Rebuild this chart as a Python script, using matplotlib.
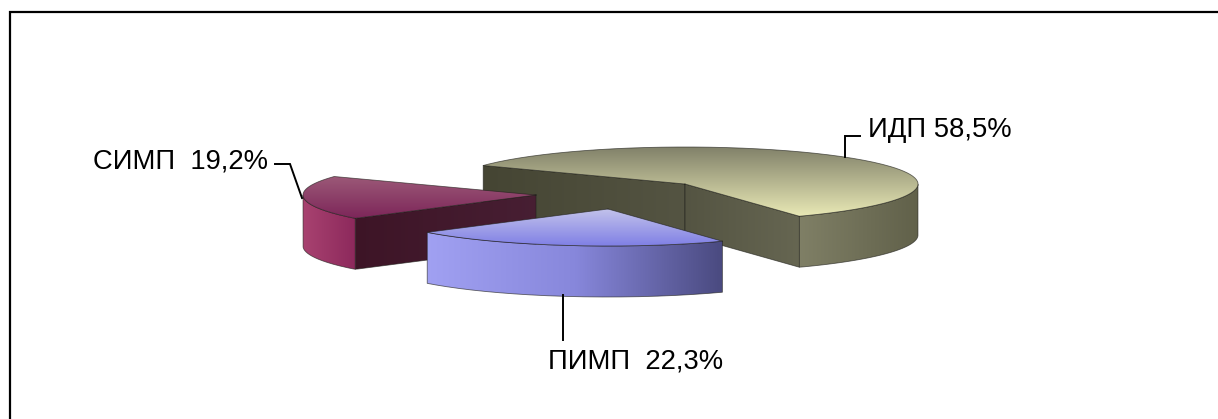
import numpy as np
import matplotlib
matplotlib.use("Agg")
import matplotlib.pyplot as plt
from matplotlib.colors import LinearSegmentedColormap
from matplotlib.patches import PathPatch
from matplotlib.path import Path

plt.rcParams['font.family'] = ['Liberation Sans', 'DejaVu Sans']

categories = ['ИДП', 'ПИМП', 'СИМП']
shares = [58.5, 22.3, 19.2]
value_labels = ['58,5%', '22,3%', '19,2%']
label_gaps = [' ', '  ', '  ']

# Exploded slice centres, in pixel-like canvas units
centres = [(685, 184), (608, 209), (536, 195)]
RX, RY, DEPTH = 233, 37, 51
START_ANGLE = 150.0

top_colors = [
    [(0.50, 0.50, 0.41), (0.91, 0.91, 0.71)],
    [(0.76, 0.76, 0.92), (0.50, 0.50, 0.90)],
    [(0.61, 0.35, 0.47), (0.49, 0.15, 0.35)],
]
rim_colors = [
    [(0.50, 0.50, 0.40), (0.38, 0.38, 0.29)],
    [(0.63, 0.63, 0.95), (0.53, 0.53, 0.86), (0.29, 0.29, 0.50)],
    [(0.66, 0.26, 0.44), (0.55, 0.16, 0.36)],
]
# One gradient for the cut face at the start angle and one for the end angle
cut_colors = [
    ([(0.27, 0.27, 0.20), (0.33, 0.33, 0.26)], [(0.33, 0.33, 0.26), (0.40, 0.40, 0.32)]),
    (None, None),
    ([(0.24, 0.08, 0.15), (0.28, 0.12, 0.20)], None),
]

fig = plt.figure(figsize=(12.18, 4.19), dpi=100)
ax = fig.add_axes([0, 0, 1, 1])
ax.set_xlim(0, 1218)
ax.set_ylim(419, 0)
ax.axis('off')

layer = [1.0]


def rim_point(c, deg):
    t = np.radians(deg)
    return c[0] + RX * np.cos(t), c[1] - RY * np.sin(t)


def fill_gradient(poly, colors, vertical):
    """Fill a polygon with a linear gradient and a thin dark edge."""
    poly = np.asarray(poly, float)
    z = layer[0]
    layer[0] += 1
    patch = PathPatch(Path(np.vstack([poly, poly[:1]])), fc='none', ec='none',
                      transform=ax.transData, zorder=z)
    ax.add_patch(patch)
    cmap = LinearSegmentedColormap.from_list('g', colors)
    ramp = np.linspace(0, 1, 256)
    ramp = ramp[:, None] if vertical else ramp[None, :]
    x0, x1 = poly[:, 0].min(), poly[:, 0].max()
    y0, y1 = poly[:, 1].min(), poly[:, 1].max()
    im = ax.imshow(ramp, cmap=cmap, extent=(x0, x1, y1, y0), aspect='auto',
                   interpolation='bilinear', zorder=z + 0.1)
    im.set_clip_path(patch)
    ax.plot(np.append(poly[:, 0], poly[0, 0]), np.append(poly[:, 1], poly[0, 1]),
            color=(0.12, 0.12, 0.10), lw=0.6, alpha=0.65, zorder=z + 0.2)


def draw_slice(c, a0, a1, idx):
    """Draw one exploded slice running clockwise from a0 to a1 degrees."""
    arc = np.linspace(a0, a1, 160)
    pts = np.array([rim_point(c, a) for a in arc])
    apex = np.array(c, float)
    down = np.array([0, DEPTH])

    # Cut faces that look towards the viewer
    for edge_angle, colors in zip((a0, a1), cut_colors[idx]):
        if colors is not None:
            p = np.array(rim_point(c, edge_angle))
            fill_gradient([apex, p, p + down, apex + down], colors, False)

    # Outer rim: only the near half of the ellipse is visible
    front = pts[np.sin(np.radians(arc)) <= 0.0]
    fill_gradient(np.vstack([front, (front + down)[::-1]]), rim_colors[idx], False)

    # Top face
    fill_gradient(np.vstack([[apex], pts]), top_colors[idx], True)


# Wedge angles follow the shares, clockwise from the start angle
angles = START_ANGLE - np.concatenate([[0], np.cumsum(shares)]) * 3.6

for i in [0, 2, 1]:
    draw_slice(centres[i], angles[i], angles[i + 1], i)

# Leader lines
leaders = [
    [(860, 136), (845, 136), (845, 157)],
    [(563, 295), (563, 340)],
    [(275, 164), (290, 164), (302, 198)],
]
for pts in leaders:
    xs, ys = zip(*pts)
    ax.plot(xs, ys, color='black', lw=1.4, zorder=50, solid_joinstyle='miter')

# Labels
anchors = [(868, 137), (548, 368), (93, 168)]
for name, gap, val, (x, y) in zip(categories, label_gaps, value_labels, anchors):
    ax.text(x, y, f'{name}{gap}{val}', fontsize=19.7, color='black',
            ha='left', va='baseline', zorder=51)

# Frame, open to the right and the bottom of the canvas
ax.plot([10, 10, 1218], [419, 12, 12], color='black', lw=1.6, zorder=60,
        solid_joinstyle='miter')

fig.savefig('out.png', dpi=100, facecolor='white')
